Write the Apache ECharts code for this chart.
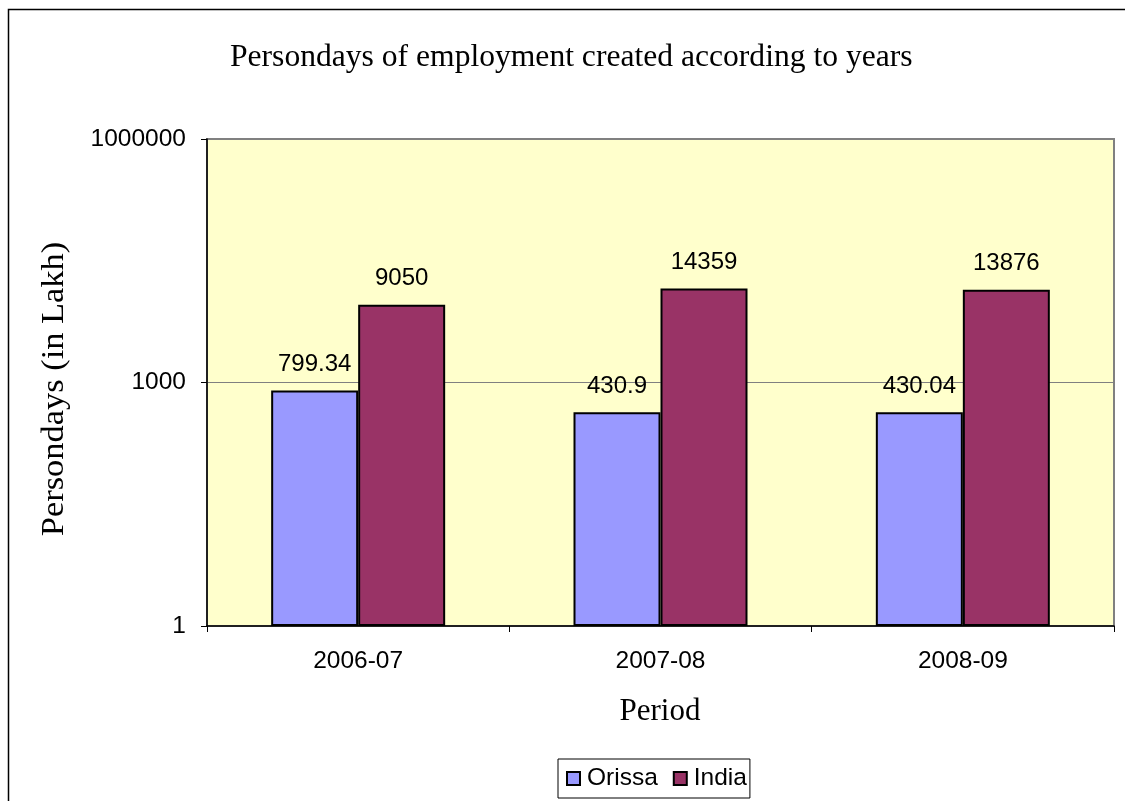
<!DOCTYPE html>
<html>
<head>
<meta charset="utf-8">
<script src="https://cdn.jsdelivr.net/npm/echarts@6/dist/echarts.min.js"></script>
<style>
html,body{margin:0;padding:0;background:#fff;}
#main{width:1125px;height:801px;}
</style>
</head>
<body>
<div id="main"></div>
<script>
const categories = ['2006-07', '2007-08', '2008-09'];
const orissa = [799.34, 430.9, 430.04];
const india = [9050, 14359, 13876];
const seriesNames = ['Orissa', 'India'];
const titleText = 'Persondays of employment created according to years';
const yAxisTitle = 'Persondays (in Lakh)';
const xAxisTitle = 'Period';

const sans = '"Liberation Sans", Arial, sans-serif';
const serif = '"Liberation Serif", "Times New Roman", serif';

const chart = echarts.init(document.getElementById('main'), null, {renderer: 'canvas'});

const labelCfg = {
  show: true,
  position: 'top',
  distance: 14,
  color: '#000',
  fontFamily: sans,
  fontSize: 24
};

chart.setOption({
  animation: false,
  backgroundColor: '#fff',
  title: {
    text: titleText,
    left: 230,
    top: 42,
    padding: 0,
    textStyle: {fontFamily: serif, fontSize: 31.6, fontWeight: 'normal', color: '#000'}
  },
  grid: {
    left: 207, top: 139, right: 11, bottom: 175,
    show: true,
    backgroundColor: '#FFFFCC',
    borderColor: '#808080',
    borderWidth: 2
  },
  legend: {
    data: seriesNames,
    left: 558,
    top: 759,
    orient: 'horizontal',
    icon: 'rect',
    borderColor: '#000',
    borderWidth: 1,
    padding: [7, 3, 7, 8],
    itemWidth: 13,
    itemHeight: 13,
    itemGap: 15,
    textStyle: {fontFamily: sans, fontSize: 24.5, color: '#000', padding: [0, 0, 0, 2]}
  },
  xAxis: {
    type: 'category',
    data: categories,
    axisLine: {lineStyle: {color: '#000', width: 1.5}},
    axisTick: {show: true, length: 6, lineStyle: {color: '#000'}},
    axisLabel: {fontFamily: sans, fontSize: 24.5, color: '#000', margin: 23},
    splitLine: {show: false}
  },
  yAxis: {
    type: 'log',
    logBase: 1000,
    min: 1,
    max: 1000000,
    axisLine: {show: true, lineStyle: {color: '#000', width: 1.5}},
    axisTick: {show: true, length: 6, lineStyle: {color: '#000'}},
    axisLabel: {fontFamily: sans, fontSize: 24.5, color: '#000', margin: 21, formatter: function (v) { return String(Math.round(v)); }},
    splitLine: {show: true, lineStyle: {color: '#808080', width: 1}},
    minorTick: {show: false}
  },
  series: [
    {
      name: seriesNames[0],
      type: 'bar',
      data: orissa,
      barWidth: 87,
      barGap: '0%',
      itemStyle: {color: '#9999FF', borderColor: '#000', borderWidth: 2},
      label: labelCfg
    },
    {
      name: seriesNames[1],
      type: 'bar',
      data: india,
      barWidth: 87,
      barGap: '0%',
      itemStyle: {color: '#993366', borderColor: '#000', borderWidth: 2},
      label: labelCfg
    }
  ],
  graphic: [
    {
      type: 'rect',
      shape: {x: 8.5, y: 9.5, width: 1200, height: 900},
      style: {fill: 'none', stroke: '#000', lineWidth: 1.5},
      silent: true
    },
    {
      type: 'text',
      x: 55, y: 389,
      rotation: Math.PI / 2,
      scaleX: 1.11,
      style: {text: yAxisTitle, fontFamily: serif, fontSize: 31, fill: '#000', align: 'center', verticalAlign: 'middle'}
    },
    {
      type: 'text',
      x: 660, y: 712,
      style: {text: xAxisTitle, fontFamily: serif, fontSize: 31, fill: '#000', align: 'center', verticalAlign: 'middle'}
    }
  ]
});
</script>
</body>
</html>
